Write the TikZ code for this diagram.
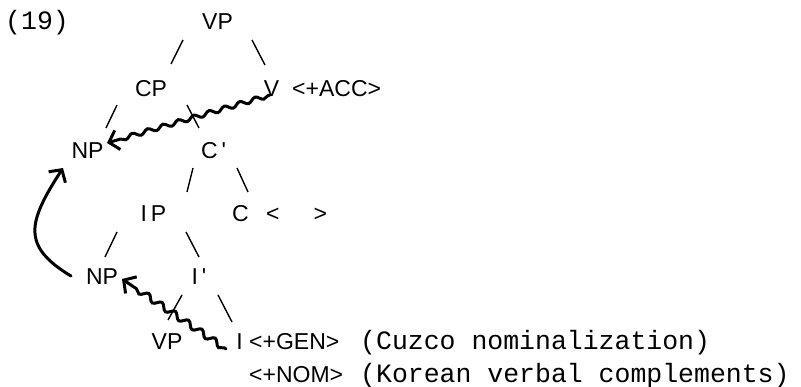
\documentclass[tikz,border=0pt]{standalone}
\usepackage{fontspec}
\setmainfont{Liberation Sans}
\newfontfamily\glossfamily{Liberation Mono}
\usetikzlibrary{arrows.meta, decorations.pathmorphing}

\newcommand{\treefont}{\fontsize{23}{27}\selectfont}
\newcommand{\glossfont}{\glossfamily\fontsize{26.5}{30}\selectfont}

\tikzset{
  cat/.style={inner sep=0pt, anchor=base, font=\treefont},
  feat/.style={inner sep=0pt, anchor=base west, font=\treefont},
  gloss/.style={inner sep=0pt, anchor=base west, font=\glossfont},
  branch/.style={line width=1.4pt},
  move/.style={line width=3pt, line cap=round, -{Straight Barb[length=9pt,width=20pt]}},
  wiggle/.style={decorate, decoration={snake, amplitude=#1, segment length=16pt, pre length=2pt, post length=12pt}}
}

\begin{document}
\begin{tikzpicture}[x=1pt, y=-1pt]
\useasboundingbox (0,0) rectangle (801,387);

\node[gloss] (num) at (5,30) {(19)};

% the tree, row by row
\node[cat] (vp) at (217.5,30) {VP};
\node[cat] (cp) at (151,97) {CP};
\node[cat] (v) at (271.5,97) {V};
\node[feat] (acc) at (292,97) {\textless+ACC\textgreater};
\node[cat] (np1) at (87.5,159) {NP};
\node[cat] (cbar) at (213.5,159) {C\,\textquotesingle};
\node[cat] (ip) at (153.5,222) {I\,P};
\node[cat] (c) at (240.5,222) {C};
\node[feat] (cfeat) at (266,222) {\textless\hspace{34pt}\textgreater};
\node[cat] (np2) at (102,285) {NP};
\node[cat] (ibar) at (199,285) {I\,\textquotesingle};
\node[cat] (vp2) at (167,350) {VP};
\node[cat] (i) at (239.5,350) {I};
\node[feat] (gen) at (249,350) {\textless+GEN\textgreater};
\node[feat] (nom) at (249,383) {\textless+NOM\textgreater};
\node[gloss] (cuzco) at (360,350) {(Cuzco nominalization)};
\node[gloss] (korean) at (360,383) {(Korean verbal complements)};

% branches
\draw[branch] ([shift={(-34.5,10)}]vp.base) -- ([shift={(20,-33)}]cp.base);
\draw[branch] ([shift={(34.5,10)}]vp.base) -- ([shift={(-6.5,-32)}]v.base);
\draw[branch] ([shift={(-34,8)}]cp.base) -- ([shift={(18.5,-31)}]np1.base);
\draw[branch] ([shift={(36,8)}]cp.base) -- ([shift={(-14.5,-31)}]cbar.base);
\draw[branch] ([shift={(-20.5,9)}]cbar.base) -- ([shift={(33.5,-30)}]ip.base);
\draw[branch] ([shift={(23.5,9)}]cbar.base) -- ([shift={(7.5,-30)}]c.base);
\draw[branch] ([shift={(-36.5,10)}]ip.base) -- ([shift={(3,-28)}]np2.base);
\draw[branch] ([shift={(32.5,10)}]ip.base) -- ([shift={(0,-28)}]ibar.base);
\draw[branch] ([shift={(-17,10)}]ibar.base) -- ([shift={(1,-30)}]vp2.base);
\draw[branch] ([shift={(19,10)}]ibar.base) -- ([shift={(-7.5,-28)}]i.base);

% movement arrows
\draw[move, wiggle=2.2pt] ([shift={(-1.5,-2)}]v.base) -- ([shift={(19.5,-16)}]np1.base);
\draw[move, wiggle=3pt] ([shift={(-13.5,-1)}]i.base) -- ([shift={(20,-6)}]np2.base);
\draw[move] ([shift={(-31,-9)}]np2.base) .. controls +(-50,-30) and +(-35,54) .. ([shift={(-24.5,9)}]np1.base);
\end{tikzpicture}
\end{document}
